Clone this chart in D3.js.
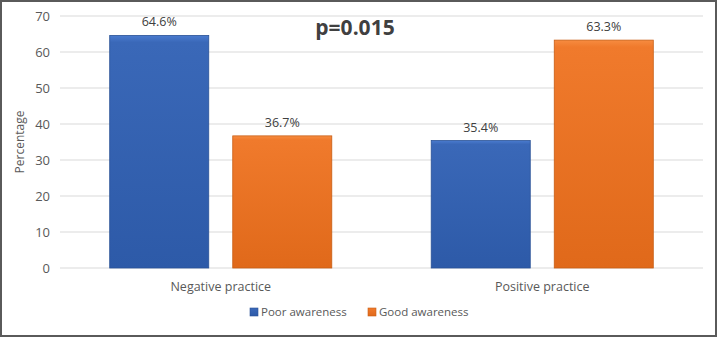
<!DOCTYPE html>
<html><head><meta charset="utf-8">
<script src="https://cdn.jsdelivr.net/npm/d3@7"></script>
<style>
html,body{margin:0;padding:0;background:#fff;}
svg{display:block;font-family:"Open Sans",sans-serif;}
</style></head>
<body>
<svg id="c" width="717" height="337"></svg>
<script>
const categories = ["Negative practice", "Positive practice"];
const seriesNames = ["Poor awareness", "Good awareness"];
const poorAwareness = [64.6, 35.4];
const goodAwareness = [36.7, 63.3];
const yTicks = [0, 10, 20, 30, 40, 50, 60, 70];
const titleText = "p=0.015";

const svg = d3.select("#c");
const W = 717, H = 337;
const m = {left: 60, right: 14, top: 16, bottom: 69};

svg.append("rect").attr("x", 1).attr("y", 1).attr("width", W - 2).attr("height", H - 2)
  .attr("fill", "#fff").attr("stroke", "#5a5a5a").attr("stroke-width", 2);

const defs = svg.append("defs");
const colors = [["#4a7bcf", "#3a68b8", "#2d5aa8"], ["#f78c40", "#f07a2c", "#e0691a"]];
colors.forEach((c, i) => {
  const g = defs.append("linearGradient").attr("id", "g" + i).attr("x1", 0).attr("x2", 0).attr("y1", 0).attr("y2", 1);
  g.append("stop").attr("offset", "0%").attr("stop-color", c[0]);
  g.append("stop").attr("offset", "3%").attr("stop-color", c[1]);
  g.append("stop").attr("offset", "100%").attr("stop-color", c[2]);
});

const x = d3.scaleBand().domain(categories).range([m.left, W - m.right]).paddingInner(0).paddingOuter(0);
const x1 = d3.scaleBand().domain(seriesNames).range([0, x.bandwidth()]).paddingInner(0.195).paddingOuter(0.404);
const y = d3.scaleLinear().domain([0, 70]).range([H - m.bottom, m.top]);

// gridlines
svg.append("g").selectAll("line").data(yTicks).join("line")
  .attr("x1", m.left).attr("x2", W - m.right)
  .attr("y1", d => y(d)).attr("y2", d => y(d))
  .attr("stroke", "#d9d9d9").attr("stroke-width", 1.2);

// y axis labels
const yAxis = d3.axisLeft(y).tickValues(yTicks).tickSize(0).tickPadding(10);
const ya = svg.append("g").attr("transform", `translate(${m.left},0)`).call(yAxis);
ya.select(".domain").remove();
ya.selectAll("text").attr("font-size", 13).attr("fill", "#595959").attr("font-family", "Open Sans, sans-serif");

svg.append("text").attr("transform", `translate(24,${(y(0)+y(70))/2}) rotate(-90)`)
  .attr("text-anchor", "middle").attr("font-size", 12).attr("fill", "#595959").text("Percentage");

// bars
const data = categories.map((c, i) => ({cat: c, vals: [poorAwareness[i], goodAwareness[i]]}));
const groups = svg.append("g").selectAll("g").data(data).join("g")
  .attr("transform", d => `translate(${x(d.cat)},0)`);
groups.selectAll("rect").data(d => d.vals.map((v, j) => ({v, j}))).join("rect")
  .attr("x", d => x1(seriesNames[d.j]))
  .attr("y", d => y(d.v))
  .attr("width", x1.bandwidth())
  .attr("height", d => y(0) - y(d.v))
  .attr("fill", d => `url(#g${d.j})`)
  .attr("stroke", d => d.j === 0 ? "#2a5296" : "#c85e15")
  .attr("stroke-width", 0.8);
groups.selectAll("text.v").data(d => d.vals.map((v, j) => ({v, j}))).join("text")
  .attr("class", "v")
  .attr("x", d => x1(seriesNames[d.j]) + x1.bandwidth() / 2)
  .attr("y", d => y(d.v) - 9)
  .attr("text-anchor", "middle").attr("font-size", 12.5).attr("fill", "#404040")
  .text(d => d.v.toFixed(1) + "%");

// x labels
const xAxis = d3.axisBottom(x).tickSize(0).tickPadding(14);
const xa = svg.append("g").attr("transform", `translate(0,${y(0)})`).call(xAxis);
xa.select(".domain").remove();
xa.selectAll("text").attr("font-size", 12.5).attr("fill", "#595959").attr("font-family", "Open Sans, sans-serif");

// title
svg.append("text").attr("x", 355).attr("y", 35).attr("text-anchor", "middle")
  .attr("font-size", 21).attr("font-weight", "bold").attr("fill", "#404040").text(titleText);

// legend
const legX = [250, 368];
const leg = svg.append("g").selectAll("g").data(seriesNames).join("g")
  .attr("transform", (d, i) => `translate(${legX[i]},316)`);
leg.append("rect").attr("x", 0).attr("y", -8).attr("width", 8).attr("height", 8)
  .attr("fill", (d, i) => `url(#g${i})`).attr("stroke", (d, i) => i === 0 ? "#2a5296" : "#c85e15").attr("stroke-width", 0.6);
leg.append("text").attr("x", 11).attr("y", 0).attr("font-size", 11.5).attr("fill", "#595959").text(d => d);
</script>
</body></html>
